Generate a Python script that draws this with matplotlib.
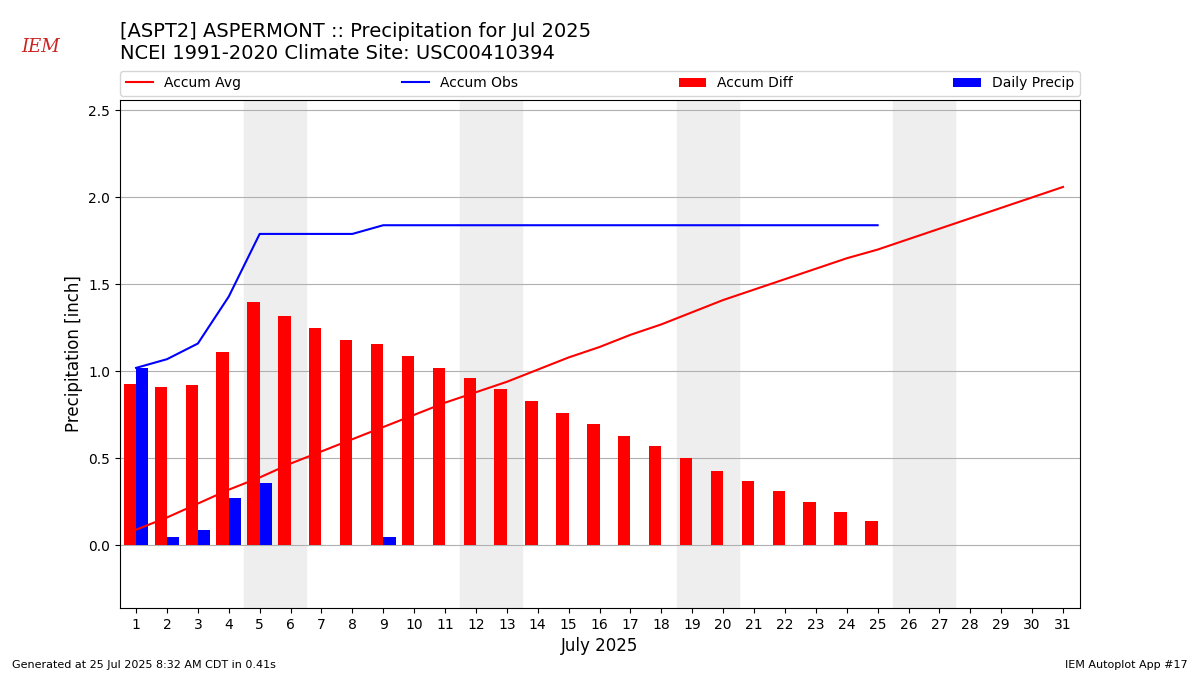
import matplotlib
matplotlib.use("Agg")
import matplotlib.pyplot as plt
import numpy as np

days = list(range(1, 32))
accum_avg = [0.09,0.16,0.24,0.32,0.39,0.47,0.54,0.61,0.68,0.75,0.82,0.88,0.94,1.01,1.08,1.14,
             1.21,1.27,1.34,1.41,1.47,1.53,1.59,1.65,1.70,1.76,1.82,1.88,1.94,2.00,2.06]
obs_days = list(range(1, 26))
daily_precip = [1.02,0.05,0.09,0.27,0.36,0,0,0,0.05,0,0,0,0,0,0,0,0,0,0,0,0,0,0,0,0]
accum_obs = list(np.round(np.cumsum(daily_precip), 2))
accum_diff = [o - a for o, a in zip(accum_obs, accum_avg[:25])]
weekends = [(4.5, 6.5), (11.5, 13.5), (18.5, 20.5), (25.5, 27.5)]

fig = plt.figure(figsize=(12, 6.75), dpi=100)
ax = fig.add_axes([0.1, 0.0993, 0.8, 0.7526])
for a, b in weekends:
    ax.axvspan(a, b, color="#eeeeee", zorder=0)
ax.grid(axis="y", color="#b0b0b0", zorder=1)
ax.set_axisbelow(True)
ax.plot(days, accum_avg, color="red", label="Accum Avg", zorder=3)
ax.plot(obs_days, accum_obs, color="blue", label="Accum Obs", zorder=3)
x = np.array(obs_days)
ax.bar(x - 0.2, accum_diff, width=0.4, color="red", label="Accum Diff", zorder=2)
ax.bar(x + 0.2, daily_precip, width=0.4, color="blue", label="Daily Precip", zorder=2)
ax.set_xlim(0.48, 31.55)
ax.set_ylim(-0.36, 2.56)
ax.set_xticks(days)
ax.set_xlabel("July 2025", fontsize=12)
ax.set_ylabel("Precipitation [inch]", fontsize=12)
ax.legend(loc="lower left", bbox_to_anchor=(0, 1.008, 1, 0.05), mode="expand", ncol=4,
          borderaxespad=0, fontsize=10)
fig.text(0.1, 0.945, "[ASPT2] ASPERMONT :: Precipitation for Jul 2025", fontsize=14)
fig.text(0.1, 0.913, "NCEI 1991-2020 Climate Site: USC00410394", fontsize=14)
fig.text(0.01, 0.01, "Generated at 25 Jul 2025 8:32 AM CDT in 0.41s", fontsize=8)
fig.text(0.99, 0.01, "IEM Autoplot App #17", fontsize=8, ha="right")
fig.text(0.018, 0.923, "IEM", fontsize=13, color="#cc2222", family="DejaVu Serif", style="italic")
fig.savefig("out.png")
